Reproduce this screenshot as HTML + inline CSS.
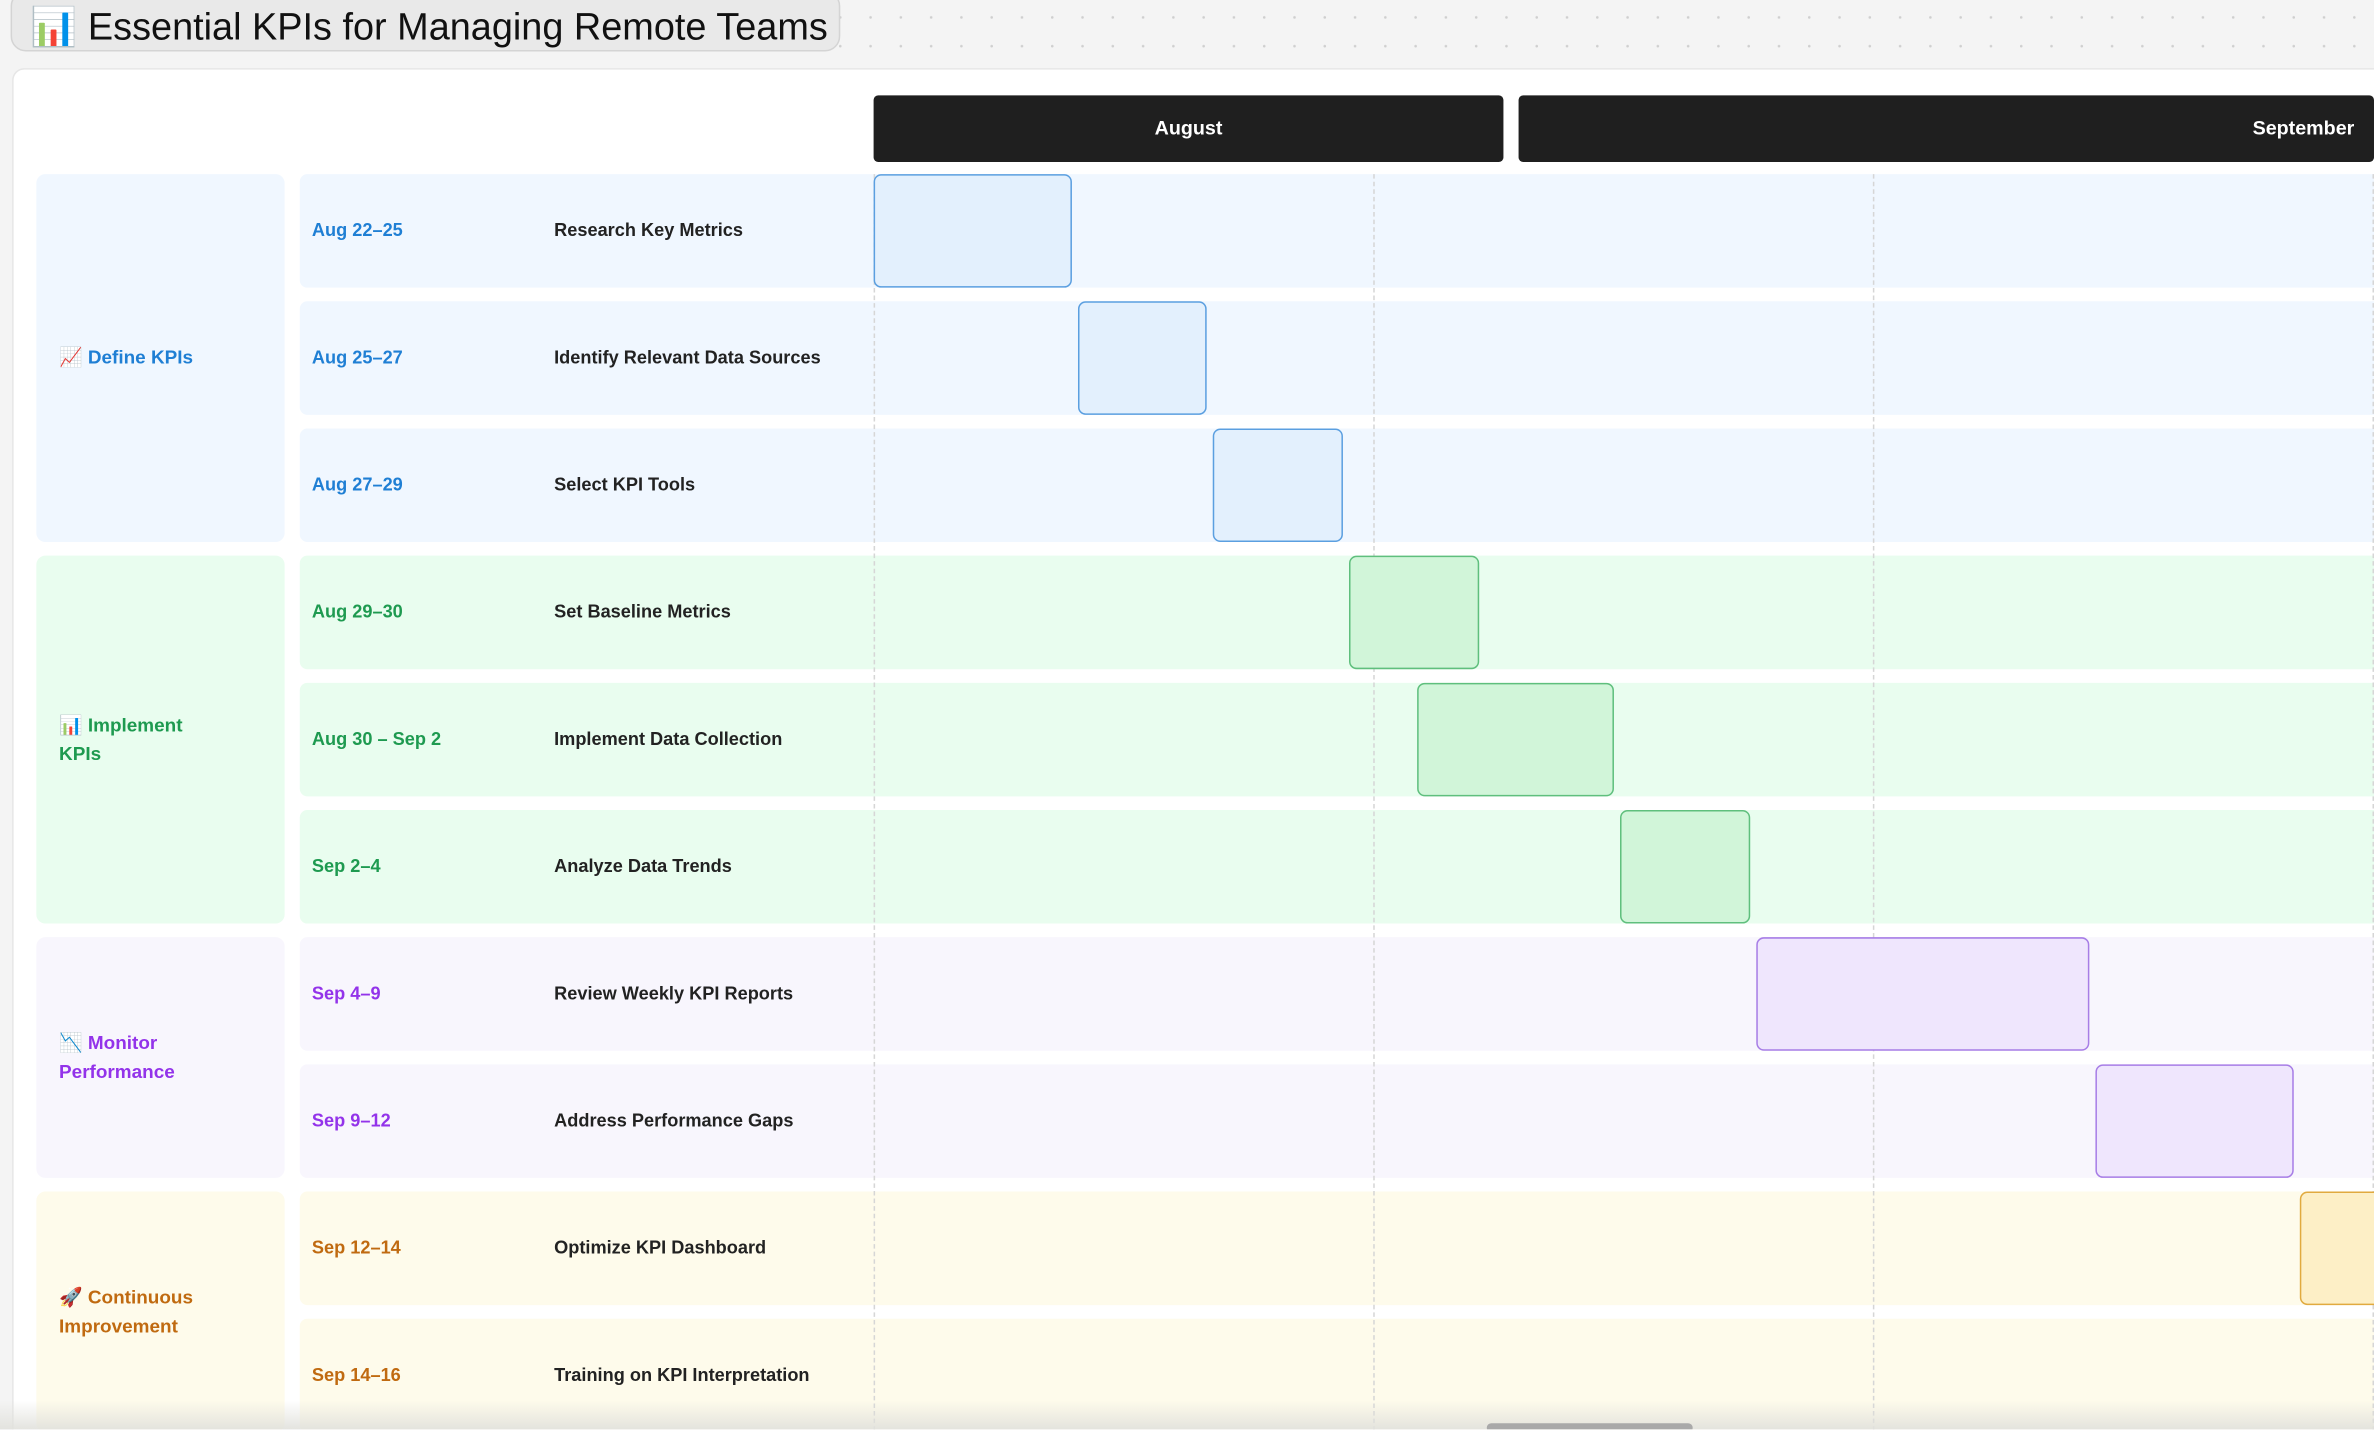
<!DOCTYPE html>
<html><head><meta charset="utf-8">
<style>
html,body{margin:0;padding:0;width:2374px;height:1430px;overflow:hidden;background:#f4f4f4;}
#stage{position:absolute;left:0;top:0;width:1568px;height:944px;transform:scale(1.51403);transform-origin:0 0;
 font-family:"Liberation Sans","Noto Sans CJK SC",sans-serif;
 background-color:#f4f4f4;background-image:radial-gradient(#cfcfcf 0.8px,transparent 1px);background-size:20px 19px;background-position:5px 2px;overflow:hidden;}
.abs{position:absolute;}
#title{left:7px;top:-6px;width:548px;height:40px;background:#e9e9e9;border:1px solid #d4d4d4;border-radius:10px;box-sizing:border-box;font-size:25px;color:#111;line-height:46px;padding-left:12px;white-space:nowrap;}
#card{left:8px;top:45px;width:1580px;height:920px;background:#fff;border-radius:8px;border:1px solid #e6e6e6;}
.month{background:#1f1f1f;color:#fff;font-weight:bold;font-size:13px;height:44px;line-height:44px;border-radius:3px;}
.grp{border-radius:6px;font-weight:bold;font-size:12.5px;box-sizing:border-box;padding-left:15px;padding-right:40px;display:flex;align-items:center;line-height:19px;}
.row{border-radius:5px;}
.txt{font-weight:bold;font-size:12px;white-space:nowrap;}
.bar{border-radius:5px;box-sizing:border-box;border:1px solid;}
.vline{border-left:1px dashed #d6d6d6;width:0;}
</style></head>
<body>
<div id="stage">
 <div id="card" class="abs"></div>
 <div id="title" class="abs">📊 Essential KPIs for Managing Remote Teams</div>
 <div class="abs month" style="left:577px;top:63px;width:416px;text-align:center;">August</div>
 <div class="abs month" style="left:1003px;top:63px;width:565px;text-align:right;padding-right:13px;box-sizing:border-box;">September</div>
 <div id="layer" class="abs" style="left:0;top:0;width:1568px;height:944px;"></div>
 <div class="abs" style="left:0;top:925px;width:1568px;height:19px;background:linear-gradient(rgba(240,240,235,0),rgba(225,225,220,0.9));"></div>
 <div class="abs" style="left:982px;top:940px;width:136px;height:6px;border-radius:3px;background:#a9a9a9;"></div>
</div>
<script>
// Data
const groupNames = ["📈 Define KPIs","📊 Implement KPIs","📉 Monitor Performance","🚀 Continuous Improvement"];
const taskGroups = [0,0,0,1,1,1,2,2,3,3];
const taskNames = ["Research Key Metrics","Identify Relevant Data Sources","Select KPI Tools","Set Baseline Metrics","Implement Data Collection","Analyze Data Trends","Review Weekly KPI Reports","Address Performance Gaps","Optimize KPI Dashboard","Training on KPI Interpretation"];
const taskLabels = ["Aug 22–25","Aug 25–27","Aug 27–29","Aug 29–30","Aug 30 – Sep 2","Sep 2–4","Sep 4–9","Sep 9–12","Sep 12–14","Sep 14–16"];
const taskStartDay = [0,3,5,7,8,11,13,18,21,23];   // days since Aug 22
const taskDuration = [3,2,2,2,3,2,5,3,2,2];
const gridDays = [0,7.36,14.72,22.08];

const groupText = ["#1f7fd4","#1e9a50","#9333ea","#c06a10"];
const groupBg = ["#f0f7ff","#e9fdef","#f8f6fd","#fefbeb"];
const barFill = ["#e3f0fd","#d1f5d9","#efe6fd","#fdefc6"];
const barStroke = ["#5b9fe0","#5fbf7d","#a77de6","#e1aa3f"];

const X0 = 577, DAY = 44.85, GAP = 4, ROW0 = 115, PITCH = 84, ROWH = 75;
const xScale = d => X0 + d * DAY;
const yScale = i => ROW0 + i * PITCH;
const layer = document.getElementById('layer');
function mk(cls, style){const e=document.createElement('div');e.className='abs '+cls;Object.assign(e.style,style);layer.appendChild(e);return e;}

groupNames.forEach((g,gi)=>{
  const idx = taskGroups.map((t,i)=>t===gi?i:-1).filter(i=>i>=0);
  const top = yScale(idx[0]), bot = yScale(idx[idx.length-1]) + ROWH;
  const e = mk('grp',{left:'24px',top:top+'px',width:'164px',height:(bot-top)+'px',background:groupBg[gi],color:groupText[gi]});
  e.textContent = g;
  
  
});
taskNames.forEach((n,i)=>{
  const g = taskGroups[i], y = yScale(i);
  const r = mk('row',{left:'198px',top:y+'px',width:'1400px',height:ROWH+'px',background:groupBg[g]});
  
  
  const d = mk('txt',{left:'206px',top:(y+30)+'px',color:groupText[g]});
  d.textContent = taskLabels[i];
  
  
  const t = mk('txt',{left:'366px',top:(y+30)+'px',color:'#222'});
  t.textContent = n;
  
  
});
gridDays.forEach((gd,k)=>{
  const v = mk('vline',{left:xScale(gd)+'px',top:'115px',height:'830px'});
  
  
});
taskNames.forEach((n,i)=>{
  const g = taskGroups[i];
  const x = xScale(taskStartDay[i]), w = taskDuration[i]*DAY - GAP;
  const b = mk('bar',{left:x+'px',top:yScale(i)+'px',width:w+'px',height:ROWH+'px',background:barFill[g],borderColor:barStroke[g]});
  
  
});
</script>
</body></html>
